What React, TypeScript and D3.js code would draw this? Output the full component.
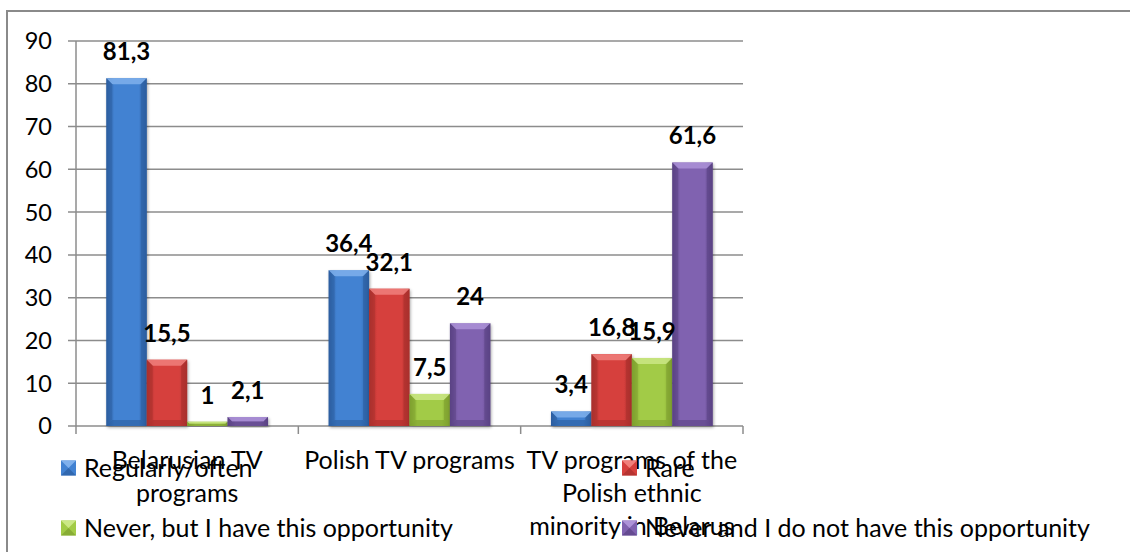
import React, { useRef, useEffect } from "react";
import * as d3 from "d3";

const categories = [
  ["Belarusian TV", "programs"],
  ["Polish TV programs"],
  ["TV programs of the", "Polish ethnic", "minority in Belarus"],
];
const seriesNames = [
  "Regularly/often",
  "Rare",
  "Never, but I have this opportunity",
  "Never and I do not have this opportunity",
];
const regularly = [81.3, 36.4, 3.4];
const rare = [15.5, 32.1, 16.8];
const neverCan = [1, 7.5, 15.9];
const neverCannot = [2.1, 24, 61.6];
const yTicks = [0, 10, 20, 30, 40, 50, 60, 70, 80, 90];

// main, light (top bevel), dark (sides)
const palette = [
  { main: "#4282d2", light: "#7fb0ec", dark: "#2b5d9f" },
  { main: "#d6403d", light: "#f0807c", dark: "#a82f2c" },
  { main: "#a2cb46", light: "#cbe886", dark: "#7d9f2e" },
  { main: "#8062b0", light: "#ad93d8", dark: "#5a4284" },
];

const W = 1130;
const H = 552;
const FONT = "Lato, 'Open Sans', sans-serif";

const App: React.FC = () => {
  const svgRef = useRef<SVGSVGElement>(null);

  useEffect(() => {
    if (!svgRef.current) return;
    const svg = d3.select(svgRef.current);
    svg.selectAll("*").remove();

    const values = [regularly, rare, neverCan, neverCannot];
    const left = 76;
    const right = 743;
    const top = 41;
    const bottom = 426;

    // outer chart frame
    svg
      .append("rect")
      .attr("x", 7)
      .attr("y", 11)
      .attr("width", W + 20)
      .attr("height", H + 20)
      .attr("fill", "white")
      .attr("stroke", "#8a8a8a")
      .attr("stroke-width", 2);

    const y = d3.scaleLinear().domain([0, 90]).range([bottom, top]);
    const x0 = d3
      .scaleBand<number>()
      .domain(d3.range(categories.length))
      .range([left, right]);
    const x1 = d3
      .scaleBand<number>()
      .domain(d3.range(seriesNames.length))
      .range([0, x0.bandwidth()])
      .paddingOuter(0.75)
      .paddingInner(0);

    const defs = svg.append("defs");
    palette.forEach((c, i) => {
      const g = defs
        .append("linearGradient")
        .attr("id", `grad${i}`)
        .attr("x1", "0")
        .attr("x2", "1")
        .attr("y1", "0")
        .attr("y2", "0");
      g.append("stop").attr("offset", "0").attr("stop-color", c.dark);
      g.append("stop").attr("offset", "0.2").attr("stop-color", c.main);
      g.append("stop").attr("offset", "0.8").attr("stop-color", c.main);
      g.append("stop").attr("offset", "1").attr("stop-color", c.dark);
    });
    const shadow = defs
      .append("filter")
      .attr("id", "shadow")
      .attr("x", "-20%")
      .attr("y", "-20%")
      .attr("width", "140%")
      .attr("height", "140%");
    shadow
      .append("feDropShadow")
      .attr("dx", 1)
      .attr("dy", 1.5)
      .attr("stdDeviation", 1.5)
      .attr("flood-color", "#000")
      .attr("flood-opacity", 0.35);

    // gridlines
    const grid = svg.append("g");
    grid
      .selectAll("line")
      .data(yTicks)
      .join("line")
      .attr("x1", left - 8)
      .attr("x2", right)
      .attr("y1", (d) => y(d))
      .attr("y2", (d) => y(d))
      .attr("stroke", "#8c8c8c")
      .attr("stroke-width", 1.5);

    // y axis line
    svg
      .append("line")
      .attr("x1", left)
      .attr("x2", left)
      .attr("y1", top)
      .attr("y2", bottom + 8)
      .attr("stroke", "#8c8c8c")
      .attr("stroke-width", 1.5);

    // category ticks
    svg
      .append("g")
      .selectAll("line")
      .data(d3.range(1, categories.length + 1))
      .join("line")
      .attr("x1", (d) => left + d * x0.bandwidth())
      .attr("x2", (d) => left + d * x0.bandwidth())
      .attr("y1", bottom)
      .attr("y2", bottom + 8)
      .attr("stroke", "#8c8c8c")
      .attr("stroke-width", 1.5);

    // y tick labels
    svg
      .append("g")
      .selectAll("text")
      .data(yTicks)
      .join("text")
      .attr("x", 52)
      .attr("y", (d) => y(d))
      .attr("dy", "0.36em")
      .attr("text-anchor", "end")
      .style("font", `23.5px ${FONT}`)
      .attr("fill", "#000")
      .text((d) => d);

    // bars
    const bars = svg.append("g");
    values.forEach((vals, s) => {
      const c = palette[s];
      vals.forEach((v, i) => {
        const bx = (x0(i) ?? 0) + (x1(s) ?? 0);
        const bw = x1.bandwidth();
        const by = y(v);
        const bh = bottom - by;
        const b = Math.min(6, bh / 2, bw / 2);
        const g = bars.append("g");
        g.append("rect")
          .attr("x", bx)
          .attr("y", by)
          .attr("width", bw)
          .attr("height", bh)
          .attr("fill", `url(#grad${s})`)
          .attr("filter", "url(#shadow)");
        // top bevel
        g.append("path")
          .attr(
            "d",
            `M${bx},${by}L${bx + bw},${by}L${bx + bw - b},${by + b}L${bx + b},${by + b}Z`,
          )
          .attr("fill", c.light)
          .attr("opacity", 0.85);
        // left bevel
        g.append("path")
          .attr(
            "d",
            `M${bx},${by}L${bx + b},${by + b}L${bx + b},${bottom - b}L${bx},${bottom}Z`,
          )
          .attr("fill", c.dark)
          .attr("opacity", 0.5);
        // right bevel
        g.append("path")
          .attr(
            "d",
            `M${bx + bw},${by}L${bx + bw - b},${by + b}L${bx + bw - b},${bottom - b}L${bx + bw},${bottom}Z`,
          )
          .attr("fill", c.dark)
          .attr("opacity", 0.6);
        // bottom bevel
        g.append("path")
          .attr(
            "d",
            `M${bx},${bottom}L${bx + b},${bottom - b}L${bx + bw - b},${bottom - b}L${bx + bw},${bottom}Z`,
          )
          .attr("fill", c.dark)
          .attr("opacity", 0.6);
        // value label
        svg
          .append("text")
          .attr("x", bx + bw / 2)
          .attr("y", by - 18)
          .attr("text-anchor", "middle")
          .style("font", `bold 24px ${FONT}`)
          .attr("fill", "#000")
          .text(String(v).replace(".", ","));
      });
    });

    // category labels
    const cat = svg.append("g");
    categories.forEach((lines, i) => {
      const cx = (x0(i) ?? 0) + x0.bandwidth() / 2;
      lines.forEach((ln, j) => {
        cat
          .append("text")
          .attr("x", cx)
          .attr("y", 460 + j * 33)
          .attr("dy", "0.36em")
          .attr("text-anchor", "middle")
          .style("font", `25px ${FONT}`)
          .attr("fill", "#000")
          .text(ln);
      });
    });

    // legend
    const legendPos = [
      [61, 468],
      [622, 468],
      [61, 528],
      [622, 528],
    ];
    seriesNames.forEach((name, s) => {
      const [lx, ly] = legendPos[s];
      const c = palette[s];
      const sz = 15;
      const g = svg.append("g");
      g.append("rect")
        .attr("x", lx)
        .attr("y", ly - sz / 2)
        .attr("width", sz)
        .attr("height", sz)
        .attr("fill", c.main);
      g.append("path")
        .attr(
          "d",
          `M${lx},${ly - sz / 2}L${lx + sz},${ly - sz / 2}L${lx + sz / 2},${ly}Z`,
        )
        .attr("fill", c.light);
      g.append("path")
        .attr(
          "d",
          `M${lx},${ly + sz / 2}L${lx + sz},${ly + sz / 2}L${lx + sz / 2},${ly}Z`,
        )
        .attr("fill", c.dark)
        .attr("opacity", 0.7);
      g.append("text")
        .attr("x", lx + 23)
        .attr("y", ly)
        .attr("dy", "0.36em")
        .style("font", `25px ${FONT}`)
        .attr("fill", "#000")
        .text(name);
    });
  }, []);

  return (
    <svg
      ref={svgRef}
      width={W}
      height={H}
      style={{ position: "absolute", left: 0, top: 0, background: "white" }}
    />
  );
};

export default App;
